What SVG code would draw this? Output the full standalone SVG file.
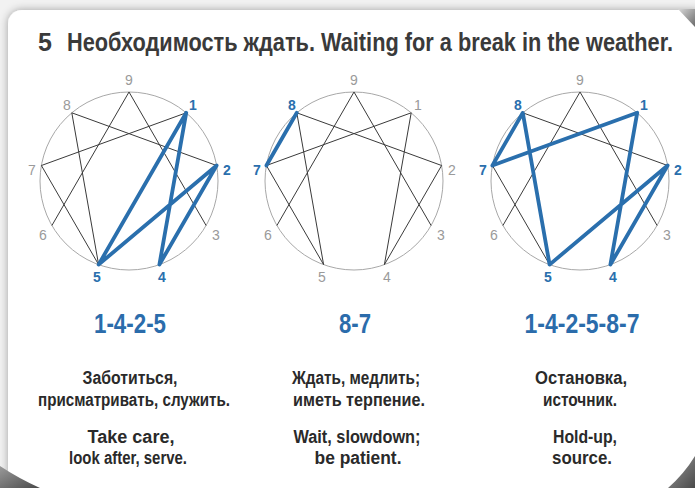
<svg xmlns="http://www.w3.org/2000/svg" width="695" height="488" viewBox="0 0 695 488">
  <defs>
    <style>
      .ring { fill: none; stroke: #a8a8a8; stroke-width: 1; }
      .gl { fill: none; stroke: #3a3a3a; stroke-width: 1; }
      .bl { fill: none; stroke: #2a6fad; stroke-width: 3.8; stroke-linejoin: round; stroke-linecap: round; }
      .ng { font-family: "Liberation Sans", Arial, sans-serif; font-size: 14px; fill: #9a9a9a; text-anchor: middle; }
      .nb { font-family: "Liberation Sans", Arial, sans-serif; font-size: 14px; font-weight: bold; fill: #2a6fad; text-anchor: middle; }
      .seq { font-family: "Liberation Sans", Arial, sans-serif; font-size: 28px; font-weight: bold; fill: #2b6cab; text-anchor: middle; }
      .txt { font-family: "Liberation Sans", Arial, sans-serif; font-size: 18px; font-weight: bold; fill: #2a2a2a; text-anchor: middle; }
      .title { font-family: "Liberation Sans", Arial, sans-serif; font-size: 25px; font-weight: bold; fill: #3a3a3a; }
    </style>
    <filter id="sh" x="-5%" y="-5%" width="110%" height="110%">
      <feDropShadow dx="0" dy="0" stdDeviation="4" flood-color="#000" flood-opacity="0.35"/>
    </filter>
    <linearGradient id="fold" x1="0" y1="0" x2="1" y2="1">
      <stop offset="0" stop-color="#d8d8d8"/>
      <stop offset="1" stop-color="#6a6a6a"/>
    </linearGradient>
    <linearGradient id="bl" x1="0" y1="0" x2="1" y2="1">
      <stop offset="0" stop-color="#9a9a9a"/>
      <stop offset="1" stop-color="#4a4a4a"/>
    </linearGradient>
    <g id="base">
      <circle class="ring" cx="0" cy="0" r="89"/>
      <path class="gl" d="M0,-89 L77.1,44.5 M0,-89 L-77.1,44.5 M57.2,-68.2 L30.4,83.6 L87.6,-15.5 L-57.2,-68.2 L-30.4,83.6 L-87.6,-15.5 Z"/>
    </g>
  </defs>

  <rect x="0" y="0" width="695" height="488" fill="#f2f2f2"/>
  <rect x="8" y="10" width="700" height="500" rx="14" fill="#ffffff" filter="url(#sh)"/>
  <polygon points="678,9 695,9 695,27" fill="url(#fold)"/>
  <path d="M0,466 Q18,478 40,488 L0,488 Z" fill="url(#bl)"/>
  <path d="M695,456 Q684,474 668,488 L695,488 Z" fill="url(#bl)"/>

  <g id="title">
    <text class="title" x="38" y="51">5</text>
    <text class="title" transform="translate(67,51) scale(0.75,1)" x="0" y="0" textLength="808" lengthAdjust="spacingAndGlyphs">Необходимость ждать. Waiting for a break in the weather.</text>
  </g>

  <g id="enneagram-1" transform="translate(129,181)">
    <use href="#base"/>
    <g class="connectors">
      <polyline class="bl" points="57.2,-68.2 30.4,83.6 87.6,-15.5 -30.4,83.6 57.2,-68.2"/>
    </g>
    <text class="ng" x="0" y="-96">9</text>
    <text class="nb" x="64" y="-71">1</text>
    <text class="nb" x="98" y="-6">2</text>
    <text class="ng" x="87" y="59">3</text>
    <text class="nb" x="33" y="101">4</text>
    <text class="nb" x="-32" y="101">5</text>
    <text class="ng" x="-86" y="59">6</text>
    <text class="ng" x="-97" y="-6">7</text>
    <text class="ng" x="-62" y="-71">8</text>
  </g>

  <g id="enneagram-2" transform="translate(354,181)">
    <use href="#base"/>
    <g class="connectors">
      <polyline class="bl" points="-57.2,-68.2 -87.6,-15.5"/>
    </g>
    <text class="ng" x="0" y="-96">9</text>
    <text class="ng" x="64" y="-71">1</text>
    <text class="ng" x="98" y="-6">2</text>
    <text class="ng" x="87" y="59">3</text>
    <text class="ng" x="33" y="101">4</text>
    <text class="ng" x="-32" y="101">5</text>
    <text class="ng" x="-86" y="59">6</text>
    <text class="nb" x="-97" y="-6">7</text>
    <text class="nb" x="-62" y="-71">8</text>
  </g>

  <g id="enneagram-3" transform="translate(580,181)">
    <use href="#base"/>
    <g class="connectors">
      <polyline class="bl" points="57.2,-68.2 30.4,83.6 87.6,-15.5 -30.4,83.6 -57.2,-68.2 -87.6,-15.5 57.2,-68.2"/>
    </g>
    <text class="ng" x="0" y="-96">9</text>
    <text class="nb" x="64" y="-71">1</text>
    <text class="nb" x="98" y="-6">2</text>
    <text class="ng" x="87" y="59">3</text>
    <text class="nb" x="33" y="101">4</text>
    <text class="nb" x="-32" y="101">5</text>
    <text class="ng" x="-86" y="59">6</text>
    <text class="nb" x="-97" y="-6">7</text>
    <text class="nb" x="-62" y="-71">8</text>
  </g>

  <g id="caption-1">
    <text class="seq" x="130" y="333" textLength="72" lengthAdjust="spacingAndGlyphs">1-4-2-5</text>
    <text class="txt" x="130" y="384" textLength="95" lengthAdjust="spacingAndGlyphs">Заботиться,</text>
    <text class="txt" x="134" y="406" textLength="192" lengthAdjust="spacingAndGlyphs">присматривать, служить.</text>
    <text class="txt" x="131" y="443" textLength="87" lengthAdjust="spacingAndGlyphs">Take care,</text>
    <text class="txt" x="128" y="464" textLength="118" lengthAdjust="spacingAndGlyphs">look after, serve.</text>
  </g>

  <g id="caption-2">
    <text class="seq" x="355" y="333" textLength="32" lengthAdjust="spacingAndGlyphs">8-7</text>
    <text class="txt" x="356" y="384" textLength="128" lengthAdjust="spacingAndGlyphs">Ждать, медлить;</text>
    <text class="txt" x="359" y="406" textLength="132" lengthAdjust="spacingAndGlyphs">иметь терпение.</text>
    <text class="txt" x="357" y="443" textLength="127" lengthAdjust="spacingAndGlyphs">Wait, slowdown;</text>
    <text class="txt" x="358" y="464" textLength="87" lengthAdjust="spacingAndGlyphs">be patient.</text>
  </g>

  <g id="caption-3">
    <text class="seq" x="582" y="333" textLength="115" lengthAdjust="spacingAndGlyphs">1-4-2-5-8-7</text>
    <text class="txt" x="581" y="384" textLength="92" lengthAdjust="spacingAndGlyphs">Остановка,</text>
    <text class="txt" x="580" y="406" textLength="74" lengthAdjust="spacingAndGlyphs">источник.</text>
    <text class="txt" x="585" y="443" textLength="64" lengthAdjust="spacingAndGlyphs">Hold-up,</text>
    <text class="txt" x="582" y="464" textLength="60" lengthAdjust="spacingAndGlyphs">source.</text>
  </g>
</svg>
